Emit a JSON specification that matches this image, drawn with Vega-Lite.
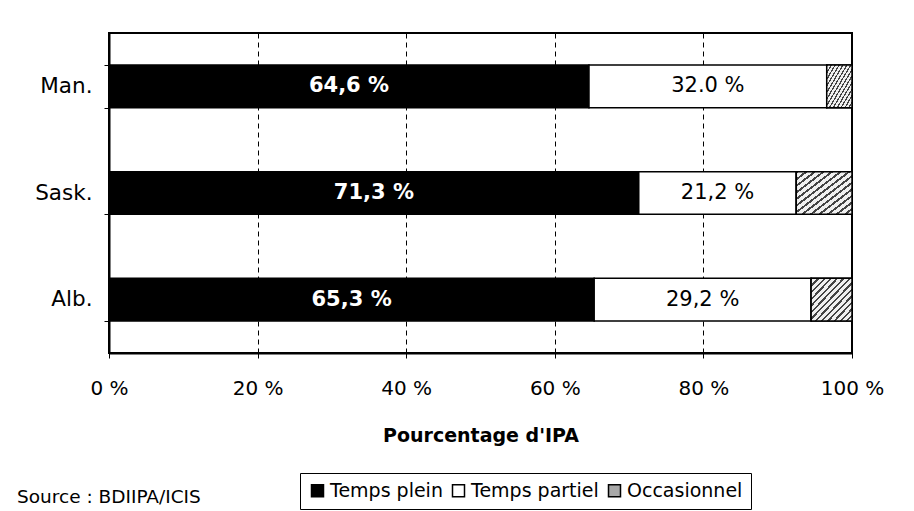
{
  "$schema": "https://vega.github.io/schema/vega-lite/v6.json",
  "width": 743,
  "height": 320,
  "autosize": {"type": "none"},
  "padding": {"left": 109, "top": 33, "right": 62, "bottom": 158},
  "background": "white",
  "config": {"font": "DejaVu Sans", "view": {"stroke": "black", "strokeWidth": 2}},
  "title": {"text": "Source : BDIIPA/ICIS", "orient": "bottom", "anchor": "start", "frame": "group", "fontSize": 18.5, "fontWeight": "normal", "color": "black", "dx": -92, "offset": -22},
  "data": {"values": [
    {"prov": "Man.", "cat": "Temps plein", "pct": 64.6, "label": "64,6 %"},
    {"prov": "Man.", "cat": "Temps partiel", "pct": 32.0, "label": "32.0 %"},
    {"prov": "Man.", "cat": "Occasionnel", "pct": 3.4, "label": ""},
    {"prov": "Sask.", "cat": "Temps plein", "pct": 71.3, "label": "71,3 %"},
    {"prov": "Sask.", "cat": "Temps partiel", "pct": 21.2, "label": "21,2 %"},
    {"prov": "Sask.", "cat": "Occasionnel", "pct": 7.5, "label": ""},
    {"prov": "Alb.", "cat": "Temps plein", "pct": 65.3, "label": "65,3 %"},
    {"prov": "Alb.", "cat": "Temps partiel", "pct": 29.2, "label": "29,2 %"},
    {"prov": "Alb.", "cat": "Occasionnel", "pct": 5.5, "label": ""}
  ]},
  "transform": [
    {"calculate": "indexof(['Temps plein','Temps partiel','Occasionnel'], datum.cat)", "as": "ord"},
    {"stack": "pct", "groupby": ["prov"], "sort": [{"field": "ord", "order": "ascending"}], "as": ["x0", "x1"]},
    {"calculate": "(datum.x0 + datum.x1) / 2", "as": "mid"}
  ],
  "encoding": {
    "y": {
      "field": "prov", "type": "nominal", "sort": ["Man.", "Sask.", "Alb."],
      "scale": {"paddingInner": 0.6, "paddingOuter": 0.3},
      "axis": {"title": null, "tickBand": "extent", "tickSize": 5, "tickColor": "black", "tickWidth": 1,
               "labelFontSize": 21.5, "labelColor": "black", "labelPadding": 12,
               "domainColor": "black", "domainWidth": 2, "grid": false}
    }
  },
  "layer": [
    {
      "mark": {"type": "bar", "stroke": "black", "strokeWidth": 1.5, "opacity": 1},
      "encoding": {
        "x": {"field": "x0", "type": "quantitative", "scale": {"domain": [0, 100]},
              "axis": {"values": [0, 20, 40, 60, 80, 100], "labelExpr": "datum.value + ' %'",
                       "grid": true, "gridColor": "black", "gridDash": [5, 4], "gridWidth": 1, "gridOpacity": 1,
                       "tickSize": 5, "tickColor": "black", "labelFontSize": 20, "labelPadding": 20, "labelColor": "black",
                       "labelFlush": false,
                       "title": "Pourcentage d'IPA", "titleFontSize": 19, "titleFontWeight": "bold", "titlePadding": 28, "titleColor": "black",
                       "domainColor": "black", "domainWidth": 2}},
        "x2": {"field": "x1"},
        "fill": {"field": "cat", "type": "nominal",
                 "scale": {"domain": ["Temps plein", "Temps partiel", "Occasionnel"], "range": ["black", "white", "#a8a8a8"]},
                 "legend": {"title": null, "orient": "none", "legendX": 191, "legendY": 440, "direction": "horizontal", "columns": 3,
                            "symbolType": "square", "symbolSize": 144, "symbolStrokeColor": "black", "symbolStrokeWidth": 1.5, "symbolOpacity": 1,
                            "labelFontSize": 19, "labelColor": "black", "labelOffset": 3, "columnPadding": 6,
                            "padding": 8, "strokeColor": "black", "fillColor": "white"}}
      }
    },
    {
      "transform": [{"filter": "datum.cat === 'Occasionnel'"}],
      "mark": {"type": "bar", "stroke": "black", "strokeWidth": 1.5,
               "fill": {"gradient": "linear", "x1": 0, "y1": 0, "x2": 1, "y2": 1, "stops": [
                 {"offset": 0, "color": "#444"}, {"offset": 0.028, "color": "#444"}, {"offset": 0.028, "color": "#f0f0f0"}, {"offset": 0.0769, "color": "#f0f0f0"},
                 {"offset": 0.0769, "color": "#444"}, {"offset": 0.1049, "color": "#444"}, {"offset": 0.1049, "color": "#f0f0f0"}, {"offset": 0.1538, "color": "#f0f0f0"},
                 {"offset": 0.1538, "color": "#444"}, {"offset": 0.1818, "color": "#444"}, {"offset": 0.1818, "color": "#f0f0f0"}, {"offset": 0.2308, "color": "#f0f0f0"},
                 {"offset": 0.2308, "color": "#444"}, {"offset": 0.2588, "color": "#444"}, {"offset": 0.2588, "color": "#f0f0f0"}, {"offset": 0.3077, "color": "#f0f0f0"},
                 {"offset": 0.3077, "color": "#444"}, {"offset": 0.3357, "color": "#444"}, {"offset": 0.3357, "color": "#f0f0f0"}, {"offset": 0.3846, "color": "#f0f0f0"},
                 {"offset": 0.3846, "color": "#444"}, {"offset": 0.4126, "color": "#444"}, {"offset": 0.4126, "color": "#f0f0f0"}, {"offset": 0.4615, "color": "#f0f0f0"},
                 {"offset": 0.4615, "color": "#444"}, {"offset": 0.4895, "color": "#444"}, {"offset": 0.4895, "color": "#f0f0f0"}, {"offset": 0.5385, "color": "#f0f0f0"},
                 {"offset": 0.5385, "color": "#444"}, {"offset": 0.5665, "color": "#444"}, {"offset": 0.5665, "color": "#f0f0f0"}, {"offset": 0.6154, "color": "#f0f0f0"},
                 {"offset": 0.6154, "color": "#444"}, {"offset": 0.6434, "color": "#444"}, {"offset": 0.6434, "color": "#f0f0f0"}, {"offset": 0.6923, "color": "#f0f0f0"},
                 {"offset": 0.6923, "color": "#444"}, {"offset": 0.7203, "color": "#444"}, {"offset": 0.7203, "color": "#f0f0f0"}, {"offset": 0.7692, "color": "#f0f0f0"},
                 {"offset": 0.7692, "color": "#444"}, {"offset": 0.7972, "color": "#444"}, {"offset": 0.7972, "color": "#f0f0f0"}, {"offset": 0.8462, "color": "#f0f0f0"},
                 {"offset": 0.8462, "color": "#444"}, {"offset": 0.8742, "color": "#444"}, {"offset": 0.8742, "color": "#f0f0f0"}, {"offset": 0.9231, "color": "#f0f0f0"},
                 {"offset": 0.9231, "color": "#444"}, {"offset": 0.9511, "color": "#444"}, {"offset": 0.9511, "color": "#f0f0f0"}, {"offset": 1, "color": "#f0f0f0"}
               ]}},
      "encoding": {
        "x": {"field": "x0", "type": "quantitative"},
        "x2": {"field": "x1"}
      }
    },
    {
      "transform": [{"filter": "datum.cat === 'Temps plein'"}],
      "mark": {"type": "text", "fontSize": 21, "fontWeight": "bold", "color": "white"},
      "encoding": {
        "x": {"field": "mid", "type": "quantitative"},
        "text": {"field": "label"}
      }
    },
    {
      "transform": [{"filter": "datum.cat === 'Temps partiel'"}],
      "mark": {"type": "text", "fontSize": 21, "color": "black"},
      "encoding": {
        "x": {"field": "mid", "type": "quantitative"},
        "text": {"field": "label"}
      }
    }
  ]
}
